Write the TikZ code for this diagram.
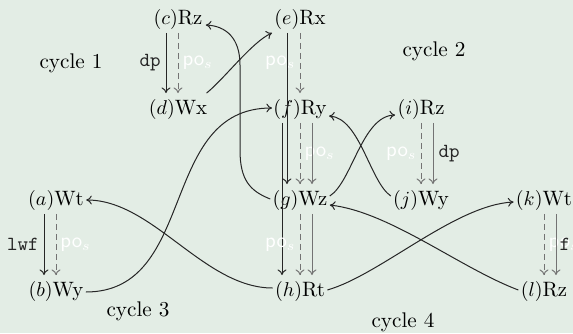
\documentclass[tikz,border=0pt]{standalone}
\usetikzlibrary{calc,arrows.meta}
\definecolor{bg}{RGB}{227,237,229}
\begin{document}
\begin{tikzpicture}[x=0.5pt,y=-0.5pt,
  ev/.style={anchor=base, text height=8.25pt, text depth=2.25pt, inner xsep=1pt, inner ysep=2pt, font=\fontsize{10.4}{12}\selectfont},
  ar/.style={-{To[length=2.8pt,width=4.4pt]}, line width=0.5pt, draw=black!85},
  arg/.style={ar, draw=black!55},
  ard/.style={ar, draw=black!55, dash pattern=on 3pt off 2pt},
  pol/.style={text=white, font=\fontsize{10.4}{11}\selectfont, inner sep=2pt},
  lab/.style={font=\fontsize{10}{12}\selectfont\ttfamily, inner sep=2.5pt, text=black!85},
  cyc/.style={font=\fontsize{10.6}{12}\selectfont}]
\useasboundingbox (0,0) rectangle (573,333);
\fill[bg] (0,0) rectangle (573,333);
% events
\node[ev] (c) at (178,24) {$(c)$Rz};
\node[ev] (d) at (178,114) {$(d)$Wx};
\node[ev] (e) at (300,24) {$(e)$Rx};
\node[ev] (f) at (300,114) {$(f)$Ry};
\node[ev] (g) at (300,205) {$(g)$Wz};
\node[ev] (h) at (300,296) {$(h)$Rt};
\node[ev] (i) at (421,114) {$(i)$Rz};
\node[ev] (j) at (421,205) {$(j)$Wy};
\node[ev] (a) at (56,205) {$(a)$Wt};
\node[ev] (b) at (56,296) {$(b)$Wy};
\node[ev] (k) at (544,205) {$(k)$Wt};
\node[ev] (l) at (544,296) {$(l)$Rz};
% cycle labels
\node[cyc] (cy1) at (71,63) {cycle 1};
\node[cyc] (cy2) at (434,51) {cycle 2};
\node[cyc] (cy3) at (138,311) {cycle 3};
\node[cyc] (cy4) at (403,322) {cycle 4};
% vertical edges
\draw[ar] ($(c.south)+(-12,0)$) -- node[midway,left,lab] (lcd) {dp} ($(d.north)+(-12,0)$);
\draw[ard] (c.south) -- node[midway,right,pol] (pcd) {\textsf{po}$_s$} (d.north);
\draw[ard] (e.south) -- node[midway,left,pol] (pef) {\textsf{po}$_s$} (f.north);
\draw[ar] ($(e.south)+(-13,0)$) -- ($(g.north)+(-13,0)$);
\draw[ar] ($(f.south)+(-18,0)$) -- ($(h.north)+(-18,0)$);
\draw[ard] (f.south) -- node[midway,right,pol] (pfg) {\textsf{po}$_s$} (g.north);
\draw[arg] ($(f.south)+(12,0)$) -- ($(g.north)+(12,0)$);
\draw[ard] (g.south) -- node[midway,left,pol] (pgh) {\textsf{po}$_s$} (h.north);
\draw[arg] ($(g.south)+(12,0)$) -- ($(h.north)+(12,0)$);
\draw[ard] (i.south) -- node[midway,left,pol] (pij) {\textsf{po}$_s$} (j.north);
\draw[arg] ($(i.south)+(12,0)$) -- node[midway,right,lab] (lij) {dp} ($(j.north)+(12,0)$);
\draw[ar] ($(a.south)+(-12,0)$) -- node[midway,left,lab] (lab1) {lwf} ($(b.north)+(-12,0)$);
\draw[ard] (a.south) -- node[midway,right,pol] (pab) {\textsf{po}$_s$} (b.north);
\draw[ard] (k.south) -- node[midway,right,pol] (pkl) {\textsf{po}$_s$} (l.north);
\draw[arg] ($(k.south)+(12,0)$) -- node[midway,right,lab,inner sep=1.5pt] (lkl) {f} ($(l.north)+(12,0)$);
% curved edges
\draw[ar] ($(d.north east)+(-3,0)$) .. controls (225,78) and (252,42) .. (e.south west);
\draw[ar] (g.west) .. controls (250,191) and (240,180) .. (240,150) -- (240,65) .. controls (240,38) and (226,26) .. ($(c.base east)+(1,1)$);
\draw[ar] ($(b.base east)+(0,-4)$) .. controls (198,292) and (158,108) .. ($(f.base west)+(1,-6)$);
\draw[ar] ($(h.base west)+(0,-8)$) .. controls (204,288) and (153,200) .. ($(a.base east)+(0,-5)$);
\draw[ar] ($(g.east)+(0,-3)$) .. controls (352,182) and (362,116) .. ($(i.base west)+(0,1)$);
\draw[ar] ($(j.west)+(0,-3)$) .. controls (370,182) and (360,118) .. ($(f.base east)+(0,2)$);
\draw[ar] (h.east) .. controls (380,275) and (455,205) .. ($(k.west)+(0,3)$);
\draw[ar] (l.west) .. controls (460,268) and (390,212) .. (g.base east);
\end{tikzpicture}
\end{document}
